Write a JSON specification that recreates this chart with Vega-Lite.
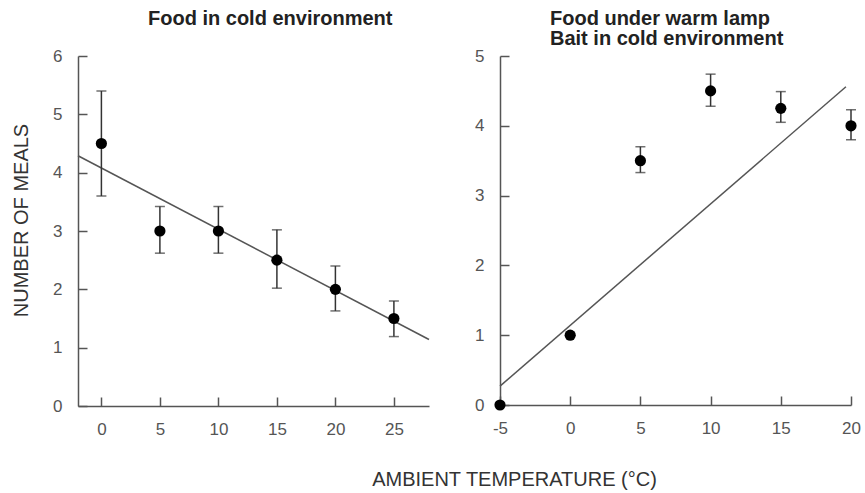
{
  "$schema": "https://vega.github.io/schema/vega-lite/v6.json",
  "background": "white",
  "padding": {"left": 11, "top": 9, "right": 5, "bottom": 5},
  "bounds": "flush",
  "spacing": 71,
  "datasets": {
    "pointsA": [
      {"temp": 0, "meals": 4.5, "lo": 3.6, "hi": 5.4},
      {"temp": 5, "meals": 3.0, "lo": 2.62, "hi": 3.42},
      {"temp": 10, "meals": 3.0, "lo": 2.62, "hi": 3.42},
      {"temp": 15, "meals": 2.5, "lo": 2.02, "hi": 3.02},
      {"temp": 20, "meals": 2.0, "lo": 1.63, "hi": 2.4},
      {"temp": 25, "meals": 1.5, "lo": 1.19, "hi": 1.8}
    ],
    "fitA": [
      {"temp": -2, "meals": 4.29},
      {"temp": 28, "meals": 1.14}
    ],
    "pointsB": [
      {"temp": -5, "meals": 0, "lo": null, "hi": null},
      {"temp": 0, "meals": 1.0, "lo": null, "hi": null},
      {"temp": 5, "meals": 3.5, "lo": 3.33, "hi": 3.7},
      {"temp": 10, "meals": 4.5, "lo": 4.28, "hi": 4.74},
      {"temp": 15, "meals": 4.25, "lo": 4.05, "hi": 4.49},
      {"temp": 20, "meals": 4.0, "lo": 3.8, "hi": 4.23}
    ],
    "fitB": [
      {"temp": -5, "meals": 0.27},
      {"temp": 19.64, "meals": 4.56}
    ]
  },
  "config": {
    "font": "Liberation Sans",
    "view": {"stroke": null},
    "axis": {
      "grid": false,
      "domainColor": "#555555",
      "domainWidth": 1.5,
      "tickColor": "#555555",
      "tickWidth": 1.5,
      "tickSize": 9,
      "labelColor": "#555555",
      "labelFont": "Liberation Sans",
      "labelFontSize": 17,
      "labelFlush": false,
      "labelExpr": "'' + datum.value",
      "titleFont": "Liberation Sans",
      "titleFontWeight": "normal",
      "titleColor": "#333333",
      "titleFontSize": 20
    },
    "title": {
      "font": "Liberation Sans",
      "fontSize": 20,
      "fontWeight": "bold",
      "color": "#222222",
      "anchor": "start",
      "frame": "group"
    }
  },
  "hconcat": [
    {
      "width": 351,
      "height": 350,
      "title": {"text": "Food in cold environment", "dx": 70, "offset": 18},
      "resolve": {"axis": {"x": "independent", "y": "independent"}},
      "layer": [
        {
          "data": {"name": "fitA"},
          "mark": {"type": "line", "color": "#555555", "strokeWidth": 1.5},
          "encoding": {
            "x": {"field": "temp", "type": "quantitative", "scale": {"domain": [-2, 28], "nice": false, "zero": false},
              "axis": {"orient": "bottom", "ticks": false, "labelPadding": 15.5, "values": [0, 5, 10, 15, 20, 25], "title": "AMBIENT TEMPERATURE (°C)", "titleX": 436, "titleY": 73, "titleBaseline": "middle", "titleAlign": "center"}},
            "y": {"field": "meals", "type": "quantitative", "scale": {"domain": [0, 6], "nice": false},
              "axis": {"orient": "left", "ticks": false, "labelPadding": 16, "values": [0, 1, 2, 3, 4, 5, 6], "title": "NUMBER OF MEALS", "titlePadding": 21, "titleY": 164}}
          }
        },
        {
          "data": {"name": "pointsA"},
          "mark": {"type": "rule", "color": "#333333", "strokeWidth": 1.5},
          "encoding": {
            "x": {"field": "temp", "type": "quantitative",
              "axis": {"orient": "top", "offset": -350, "domain": false, "labels": false, "ticks": true, "values": [0, 5, 10, 15, 20, 25], "title": null}},
            "y": {"field": "lo", "type": "quantitative",
              "axis": {"orient": "right", "offset": -351, "domain": false, "labels": false, "ticks": true, "values": [0, 1, 2, 3, 4, 5, 6], "title": null}},
            "y2": {"field": "hi"}
          }
        },
        {
          "data": {"name": "pointsA"},
          "mark": {"type": "tick", "orient": "horizontal", "color": "#333333", "size": 10, "thickness": 1.5},
          "encoding": {
            "x": {"field": "temp", "type": "quantitative", "axis": null},
            "y": {"field": "lo", "type": "quantitative", "axis": null}
          }
        },
        {
          "data": {"name": "pointsA"},
          "mark": {"type": "tick", "orient": "horizontal", "color": "#333333", "size": 10, "thickness": 1.5},
          "encoding": {
            "x": {"field": "temp", "type": "quantitative", "axis": null},
            "y": {"field": "hi", "type": "quantitative", "axis": null}
          }
        },
        {
          "data": {"name": "pointsA"},
          "mark": {"type": "point", "filled": true, "color": "#000000", "opacity": 1, "size": 125},
          "encoding": {
            "x": {"field": "temp", "type": "quantitative", "axis": null},
            "y": {"field": "meals", "type": "quantitative", "axis": null}
          }
        }
      ]
    },
    {
      "width": 351,
      "height": 349,
      "title": {"text": ["Food under warm lamp", "Bait in cold environment"], "dx": 50, "offset": -2, "lineHeight": 20},
      "resolve": {"axis": {"x": "independent", "y": "independent"}},
      "layer": [
        {
          "data": {"name": "fitB"},
          "mark": {"type": "line", "color": "#555555", "strokeWidth": 1.5},
          "encoding": {
            "x": {"field": "temp", "type": "quantitative", "scale": {"domain": [-5, 20], "nice": false, "zero": false},
              "axis": {"orient": "bottom", "ticks": false, "labelPadding": 15.5, "values": [-5, 0, 5, 10, 15, 20], "title": null}},
            "y": {"field": "meals", "type": "quantitative", "scale": {"domain": [0, 5], "nice": false},
              "axis": {"orient": "left", "ticks": false, "labelPadding": 16, "values": [0, 1, 2, 3, 4, 5], "title": null}}
          }
        },
        {
          "data": {"name": "pointsB"},
          "transform": [{"filter": "datum.lo != null"}],
          "mark": {"type": "rule", "color": "#333333", "strokeWidth": 1.5},
          "encoding": {
            "x": {"field": "temp", "type": "quantitative",
              "axis": {"orient": "top", "offset": -349, "domain": false, "labels": false, "ticks": true, "values": [-5, 0, 5, 10, 15, 20], "title": null}},
            "y": {"field": "lo", "type": "quantitative",
              "axis": {"orient": "right", "offset": -351, "domain": false, "labels": false, "ticks": true, "values": [0, 1, 2, 3, 4, 5], "title": null}},
            "y2": {"field": "hi"}
          }
        },
        {
          "data": {"name": "pointsB"},
          "transform": [{"filter": "datum.lo != null"}],
          "mark": {"type": "tick", "orient": "horizontal", "color": "#333333", "size": 10, "thickness": 1.5},
          "encoding": {
            "x": {"field": "temp", "type": "quantitative", "axis": null},
            "y": {"field": "lo", "type": "quantitative", "axis": null}
          }
        },
        {
          "data": {"name": "pointsB"},
          "transform": [{"filter": "datum.lo != null"}],
          "mark": {"type": "tick", "orient": "horizontal", "color": "#333333", "size": 10, "thickness": 1.5},
          "encoding": {
            "x": {"field": "temp", "type": "quantitative", "axis": null},
            "y": {"field": "hi", "type": "quantitative", "axis": null}
          }
        },
        {
          "data": {"name": "pointsB"},
          "mark": {"type": "point", "filled": true, "color": "#000000", "opacity": 1, "size": 125, "clip": false},
          "encoding": {
            "x": {"field": "temp", "type": "quantitative", "axis": null},
            "y": {"field": "meals", "type": "quantitative", "axis": null}
          }
        }
      ]
    }
  ]
}
